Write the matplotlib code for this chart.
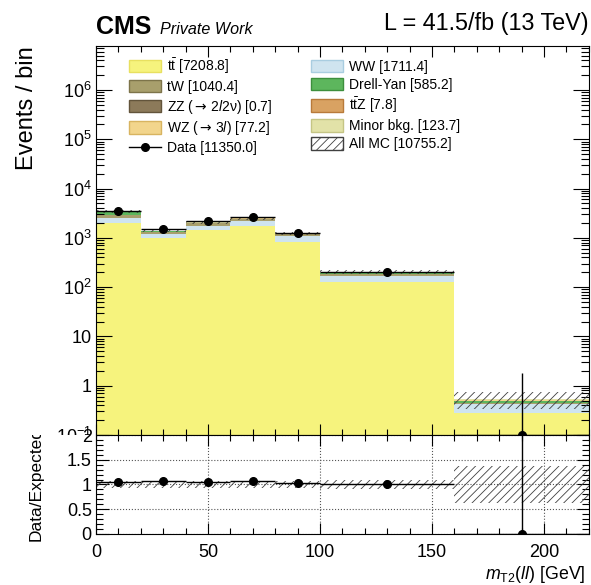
import numpy as np
import matplotlib
matplotlib.use("Agg")
import matplotlib.pyplot as plt
from matplotlib.patches import Patch, Rectangle
from matplotlib.lines import Line2D
from matplotlib.ticker import FixedLocator, LogLocator, FuncFormatter, MultipleLocator, NullFormatter
from matplotlib.transforms import Bbox, TransformedBbox

plt.rcParams['font.family'] = ['Liberation Sans', 'DejaVu Sans']
plt.rcParams['mathtext.fontset'] = 'custom'
plt.rcParams['mathtext.rm'] = 'Liberation Sans'
plt.rcParams['mathtext.it'] = 'Liberation Sans:italic'
plt.rcParams['mathtext.bf'] = 'Liberation Sans:bold'
plt.rcParams['mathtext.sf'] = 'DejaVu Sans'
plt.rcParams['hatch.linewidth'] = 0.6

# mT2(ll) binning [GeV]
bin_edges = np.array([0, 20, 40, 60, 80, 100, 160, 220])

# expected yields per bin (2017, 41.5/fb)
ttbar = np.array([2040.52, 1000.0, 1456.0, 1757.0, 825.0, 130.0, 0.28])
ww = np.array([500.0, 180.0, 321.25, 420.0, 250.0, 40.0, 0.15])
tw = np.array([330.0, 120.0, 210.38, 250.0, 115.0, 15.0, 0.02])
dy = np.array([432.15, 60.0, 40.0, 30.0, 15.0, 8.0, 0.05])
wz = np.array([30.0, 10.0, 12.0, 14.0, 8.0, 3.19, 0.01])
zz = np.array([0.2, 0.1, 0.1, 0.15, 0.1, 0.05, 0.0])
ttz = np.array([2.0, 1.0, 1.5, 1.8, 1.0, 0.49, 0.01])
minor = np.array([50.0, 15.0, 20.0, 22.0, 12.0, 4.68, 0.02])

# observed events per bin
data = np.array([3540, 1478, 2183, 2673, 1273, 203, 0])

# relative uncertainty on the total expectation
mc_unc = np.array([0.07, 0.07, 0.07, 0.07, 0.08, 0.10, 0.38])

# stack order, bottom to top
stack = [
    (ttbar, '#f6f37d', '#e8e060'),
    (ww, '#cfe4ef', '#a9cde0'),
    (tw, '#a89f6c', '#7d744a'),
    (dy, '#5db65d', '#3d8f3d'),
    (wz, '#f2d58c', '#d8b460'),
    (zz, '#8c7a5a', '#62543b'),
    (ttz, '#d9a262', '#b87a3a'),
    (minor, '#e2e2a8', '#c5c585'),
]

y_min, y_max = 0.1, 7.8e6
hatch = '////'
arrow = r'${\mathsf{\rightarrow}}\,$'

fig = plt.figure(figsize=(5.91, 5.85), dpi=100)
ax = fig.add_axes([0.1624, 0.2564, 0.834, 0.665])
ax_r = fig.add_axes([0.1624, 0.0872, 0.834, 0.1692])
ax_r.set_zorder(2)

# white pad behind the ratio panel
fig.add_artist(Rectangle((0, 0), 1, 0.2564, transform=fig.transFigure,
                         facecolor='white', edgecolor='none', zorder=1))

bottom = np.zeros(len(ttbar))
for vals, fc, ec in stack:
    ax.stairs(bottom + vals, bin_edges, baseline=bottom.copy(), fill=True,
              facecolor=fc, edgecolor='none', zorder=1)
    bottom = bottom + vals
total = bottom

ax.stairs(total * (1 + mc_unc), bin_edges, baseline=total * (1 - mc_unc), fill=True,
          facecolor='none', edgecolor='#404040', hatch=hatch, lw=0, zorder=2)

centers = 0.5 * (bin_edges[1:] + bin_edges[:-1])
half = 0.5 * np.diff(bin_edges)
err = np.sqrt(data)
lo = data - err
hi = np.where(data > 0, data + err, 1.841)

y_pts = np.maximum(data, y_min)
ax.errorbar(centers, y_pts, xerr=half,
            yerr=[y_pts - np.maximum(lo, y_min), hi - y_pts],
            fmt='o', color='k', ms=5.5, lw=1, capsize=0, zorder=5)

ax.set_yscale('log')
ax.set_xlim(0, 220)
ax.set_ylim(y_min, y_max)


def log_label(v, pos):
    e = int(round(np.log10(v)))
    if e == 0:
        return '1'
    if e == 1:
        return '10'
    return r'$10^{%d}$' % e


ax.yaxis.set_major_locator(FixedLocator([10.0 ** e for e in range(-1, 7)]))
ax.yaxis.set_major_formatter(FuncFormatter(log_label))
ax.yaxis.set_minor_locator(LogLocator(base=10, subs=np.arange(2, 10)))
ax.yaxis.set_minor_formatter(NullFormatter())
ax.xaxis.set_major_locator(MultipleLocator(50))
ax.xaxis.set_minor_locator(MultipleLocator(10))
ax.tick_params(axis='x', labelbottom=False)
ax.tick_params(which='both', direction='in', top=True, right=True, width=0.8)
ax.tick_params(axis='y', which='major', length=11.5, labelsize=13, pad=3)
ax.tick_params(axis='y', which='minor', length=5.8)
ax.tick_params(axis='x', which='major', length=8)
ax.tick_params(axis='x', which='minor', length=4)
ax.set_ylabel('Events / bin', fontsize=17, loc='top')
ax.yaxis.set_label_coords(-0.118, 1.0)

handles = [
    Patch(facecolor=stack[0][1], edgecolor=stack[0][2], label=r'$\mathrm{t\bar{t}}$ [%.1f]' % ttbar.sum()),
    Patch(facecolor=stack[2][1], edgecolor=stack[2][2], label='tW [%.1f]' % tw.sum()),
    Patch(facecolor=stack[5][1], edgecolor=stack[5][2], label=r'ZZ (%s2$\mathit{l}$2ν) [%.1f]' % (arrow, zz.sum())),
    Patch(facecolor=stack[4][1], edgecolor=stack[4][2], label=r'WZ (%s3$\mathit{l}$) [%.1f]' % (arrow, wz.sum())),
    Line2D([], [], color='k', marker='o', ms=5.5, lw=1, label='Data [%.1f]' % data.sum()),
    Patch(facecolor=stack[1][1], edgecolor=stack[1][2], label='WW [%.1f]' % ww.sum()),
    Patch(facecolor=stack[3][1], edgecolor=stack[3][2], label='Drell-Yan [%.1f]' % dy.sum()),
    Patch(facecolor=stack[6][1], edgecolor=stack[6][2], label=r'$\mathrm{t\bar{t}}$Z [%.1f]' % ttz.sum()),
    Patch(facecolor=stack[7][1], edgecolor=stack[7][2], label='Minor bkg. [%.1f]' % minor.sum()),
    Patch(facecolor='white', edgecolor='#404040', hatch=hatch, label='All MC [%.1f]' % total.sum()),
]
ax.legend(handles=handles, ncol=2, loc='upper left', bbox_to_anchor=(0.067, 0.974),
          frameon=False, fontsize=10, handlelength=2.3, handleheight=1.0,
          handletextpad=0.45, labelspacing=0.28, columnspacing=2.75,
          borderpad=0, borderaxespad=0)

# ratio panel
ratio = data / total
ax_r.stairs(1 + mc_unc, bin_edges, baseline=1 - mc_unc, fill=True,
            facecolor='none', edgecolor='#404040', hatch=hatch, lw=0, zorder=2)
ax_r.errorbar(centers, ratio, xerr=half,
              yerr=[(data - lo) / total, (hi - data) / total],
              fmt='o', color='k', ms=5.5, lw=1, capsize=0, zorder=5)
ax_r.set_xlim(0, 220)
ax_r.set_ylim(0, 2)
ax_r.yaxis.set_major_locator(FixedLocator([0, 0.5, 1, 1.5, 2]))
ax_r.yaxis.set_major_formatter(FuncFormatter(lambda v, p: '%g' % v))
ax_r.yaxis.set_minor_locator(MultipleLocator(0.1))
ax_r.xaxis.set_major_locator(MultipleLocator(50))
ax_r.xaxis.set_minor_locator(MultipleLocator(10))
ax_r.grid(True, which='major', ls=':', lw=0.8, color='#555555')
ax_r.tick_params(which='both', direction='in', top=True, right=True, width=0.8)
ax_r.tick_params(axis='y', which='major', length=9, labelsize=13, pad=3)
ax_r.tick_params(axis='y', which='minor', length=5)
ax_r.tick_params(axis='x', which='major', length=8, labelsize=13, pad=7)
ax_r.tick_params(axis='x', which='minor', length=4)
ax_r.set_xlabel(r'$m_{\mathrm{T2}}(ll)$ [GeV]', fontsize=12.8, loc='right')
ax_r.xaxis.set_label_coords(0.993, -0.3)
ylab = ax_r.set_ylabel('Data/Expected', fontsize=12.5)
ax_r.yaxis.set_label_coords(-0.106, 0.5)
ylab.set_clip_box(TransformedBbox(Bbox([[0, 0], [1, 0.2564]]), fig.transFigure))
ylab.set_clip_on(True)

fig.text(96 / 591, 1 - 34 / 585, 'CMS', fontsize=18, fontweight='bold', va='baseline')
fig.text(160 / 591, 1 - 34 / 585, 'Private Work', fontsize=11.6, style='italic', va='baseline')
fig.text(589 / 591, 1 - 30 / 585, 'L = 41.5/fb (13 TeV)', fontsize=16.8, ha='right', va='baseline')

fig.savefig('out.png', dpi=100)
